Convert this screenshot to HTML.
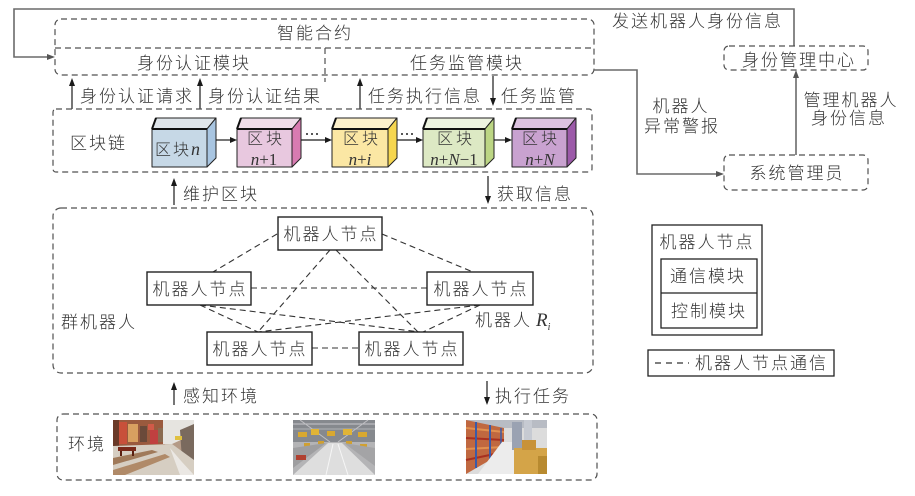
<!DOCTYPE html>
<html><head><meta charset="utf-8">
<style>
html,body{margin:0;padding:0;background:#fff;overflow:hidden;width:915px;height:496px;}
svg{display:block;}
text{font-family:"Liberation Sans","Noto Sans CJK SC",sans-serif;font-size:17px;fill:#333;letter-spacing:2px;font-weight:300;}
.m{font-family:"Liberation Serif",serif;font-style:italic;letter-spacing:0;font-weight:400;}
.u{font-family:"Liberation Serif",serif;font-style:normal;letter-spacing:0;font-weight:400;}
.d{fill:none;stroke:#505050;stroke-width:1.2;stroke-dasharray:6 4;}
.dn{fill:none;stroke:#333;stroke-width:1.1;stroke-dasharray:6 4;}
.g{fill:none;stroke:#6a6a6a;stroke-width:1.6;}
.k{stroke:#1a1a1a;stroke-width:1.2;fill:none;}
.box{fill:#fff;stroke:#222;stroke-width:1.4;}
.ce{stroke:#222;stroke-width:1;stroke-linejoin:round;}
</style></head><body>
<svg width="915" height="496" viewBox="0 0 915 496" xmlns="http://www.w3.org/2000/svg">

<!-- top feedback line -->
<polyline class="g" points="794,46 794,9 14,9 14,57 48,57"/>
<polygon points="55,57 47,54 47,60" fill="#555"/>
<text x="612" y="27">发送机器人身份信息</text>

<!-- smart contract -->
<rect class="d" x="55" y="19" width="539" height="56" rx="6"/>
<line class="d" x1="55" y1="48" x2="594" y2="48"/>
<line class="d" x1="325" y1="48" x2="325" y2="82"/>
<text x="315" y="39" text-anchor="middle">智能合约</text>
<text x="194" y="69" text-anchor="middle">身份认证模块</text>
<text x="467" y="69" text-anchor="middle">任务监管模块</text>

<!-- arrows row -->
<line class="k" x1="72" y1="109" x2="72" y2="84"/><polygon points="72,78 69,86 75,86" fill="#1a1a1a"/>
<text x="80" y="102">身份认证请求</text>
<line class="k" x1="200" y1="109" x2="200" y2="84"/><polygon points="200,78 197,86 203,86" fill="#1a1a1a"/>
<text x="208" y="102">身份认证结果</text>
<line class="k" x1="360" y1="109" x2="360" y2="84"/><polygon points="360,78 357,86 363,86" fill="#1a1a1a"/>
<text x="368" y="102">任务执行信息</text>
<line class="k" x1="493" y1="76" x2="493" y2="100"/><polygon points="493,106 490,98 496,98" fill="#1a1a1a"/>
<text x="501" y="102">任务监管</text>

<!-- blockchain -->
<rect class="d" x="53" y="109" width="539" height="63" rx="3"/>
<text x="70" y="149">区块链</text>

<!-- cubes -->
<g>
<polygon class="ce" points="152,129 156,118 216,118 207,129" fill="#dfe5ea"/>
<polygon class="ce" points="207,129 216,118 216,158 207,167" fill="#a8c5e1"/>
<rect class="ce" x="152" y="129" width="55" height="38" fill="#c6d8e6"/>
<line x1="152" y1="129" x2="207" y2="129" stroke="#111" stroke-width="2"/>
<line x1="152" y1="129" x2="156" y2="118" stroke="#111" stroke-width="2"/>
<text x="155" y="155" style="font-size:16px;letter-spacing:2px">区块<tspan class="m" font-size="18">n</tspan></text>
</g>
<g>
<polygon class="ce" points="237,129 241,118 301,118 292,129" fill="#efdde9"/>
<polygon class="ce" points="292,129 301,118 301,158 292,167" fill="#d87bb1"/>
<rect class="ce" x="237" y="129" width="55" height="38" fill="#e8c8df"/>
<line x1="237" y1="129" x2="292" y2="129" stroke="#111" stroke-width="2"/>
<line x1="237" y1="129" x2="241" y2="118" stroke="#111" stroke-width="2"/>
<text x="266" y="144" text-anchor="middle" style="font-size:16px;letter-spacing:3px">区块</text>
<text x="264" y="165" text-anchor="middle" class="m">n<tspan class="u">+1</tspan></text>
</g>
<g>
<polygon class="ce" points="332,129 336,118 397,118 388,129" fill="#fdf1cc"/>
<polygon class="ce" points="388,129 397,118 397,158 388,167" fill="#f6d64f"/>
<rect class="ce" x="332" y="129" width="56" height="38" fill="#fbe7a4"/>
<line x1="332" y1="129" x2="388" y2="129" stroke="#111" stroke-width="2"/>
<line x1="332" y1="129" x2="336" y2="118" stroke="#111" stroke-width="2"/>
<text x="362" y="144" text-anchor="middle" style="font-size:16px;letter-spacing:3px">区块</text>
<text x="360" y="165" text-anchor="middle" class="m">n<tspan class="u">+</tspan>i</text>
</g>
<g>
<polygon class="ce" points="423,129 427,118 494,118 485,129" fill="#edf3e0"/>
<polygon class="ce" points="485,129 494,118 494,158 485,167" fill="#bcd684"/>
<rect class="ce" x="423" y="129" width="62" height="38" fill="#dde9c4"/>
<line x1="423" y1="129" x2="485" y2="129" stroke="#111" stroke-width="2"/>
<line x1="423" y1="129" x2="427" y2="118" stroke="#111" stroke-width="2"/>
<text x="456" y="144" text-anchor="middle" style="font-size:16px;letter-spacing:3px">区块</text>
<text x="454" y="165" text-anchor="middle" class="m">n<tspan class="u">+</tspan>N<tspan class="u">−1</tspan></text>
</g>
<g>
<polygon class="ce" points="512,129 516,118 576,118 567,129" fill="#dcc3e0"/>
<polygon class="ce" points="567,129 576,118 576,158 567,167" fill="#9c5aa9"/>
<rect class="ce" x="512" y="129" width="55" height="38" fill="#c9a2d0"/>
<line x1="512" y1="129" x2="567" y2="129" stroke="#111" stroke-width="2"/>
<line x1="512" y1="129" x2="516" y2="118" stroke="#111" stroke-width="2"/>
<text x="541" y="144" text-anchor="middle" style="font-size:16px;letter-spacing:3px">区块</text>
<text x="540" y="165" text-anchor="middle" class="m">n<tspan class="u">+</tspan>N</text>
</g>
<!-- cube arrows -->
<line class="k" x1="216" y1="140" x2="231" y2="140"/><polygon points="237,140 230,137 230,143" fill="#1a1a1a"/>
<line class="k" x1="301" y1="140" x2="326" y2="140"/><polygon points="332,140 325,137 325,143" fill="#1a1a1a"/>
<circle cx="307" cy="134" r="1" fill="#222"/><circle cx="312" cy="134" r="1" fill="#222"/><circle cx="317" cy="134" r="1" fill="#222"/>
<line class="k" x1="397" y1="140" x2="417" y2="140"/><polygon points="423,140 416,137 416,143" fill="#1a1a1a"/>
<circle cx="402" cy="134" r="1" fill="#222"/><circle cx="407" cy="134" r="1" fill="#222"/><circle cx="412" cy="134" r="1" fill="#222"/>
<line class="k" x1="494" y1="140" x2="506" y2="140"/><polygon points="512,140 505,137 505,143" fill="#1a1a1a"/>

<!-- 维护区块 / 获取信息 -->
<line class="k" x1="174" y1="205" x2="174" y2="184"/><polygon points="174,178 171,186 177,186" fill="#1a1a1a"/>
<text x="183" y="200">维护区块</text>
<line class="k" x1="488" y1="176" x2="488" y2="198"/><polygon points="488,204 485,196 491,196" fill="#1a1a1a"/>
<text x="497" y="200">获取信息</text>

<!-- swarm -->
<rect class="d" x="53" y="208" width="540" height="165" rx="8"/>
<text x="61" y="328">群机器人</text>
<text x="475" y="326">机器人<tspan class="m" font-size="19" dx="4">R</tspan><tspan class="m" font-size="10" dy="4">i</tspan></text>

<!-- swarm connections -->
<line class="dn" x1="277" y1="234" x2="213" y2="272"/>
<line class="dn" x1="382" y1="234" x2="473" y2="272"/>
<line class="dn" x1="330" y1="250" x2="258" y2="332"/>
<line class="dn" x1="336" y1="250" x2="418" y2="332"/>
<line class="dn" x1="251" y1="288" x2="427" y2="288"/>
<line class="dn" x1="200" y1="305" x2="258" y2="332"/>
<line class="dn" x1="200" y1="305" x2="420" y2="332"/>
<line class="dn" x1="480" y1="305" x2="258" y2="332"/>
<line class="dn" x1="480" y1="305" x2="423" y2="332"/>
<line class="dn" x1="312" y1="348" x2="359" y2="348"/>

<!-- nodes -->
<rect class="box" x="278" y="217" width="104" height="33"/>
<text x="331" y="240" text-anchor="middle">机器人节点</text>
<rect class="box" x="147" y="272" width="104" height="33"/>
<text x="200" y="295" text-anchor="middle">机器人节点</text>
<rect class="box" x="427" y="272" width="106" height="33"/>
<text x="481" y="295" text-anchor="middle">机器人节点</text>
<rect class="box" x="207" y="332" width="105" height="33"/>
<text x="260" y="355" text-anchor="middle">机器人节点</text>
<rect class="box" x="359" y="332" width="104" height="33"/>
<text x="412" y="355" text-anchor="middle">机器人节点</text>

<!-- 感知环境 / 执行任务 -->
<line class="k" x1="174" y1="405" x2="174" y2="388"/><polygon points="174,382 171,390 177,390" fill="#1a1a1a"/>
<text x="183" y="402">感知环境</text>
<line class="k" x1="487" y1="381" x2="487" y2="399"/><polygon points="487,405 484,397 490,397" fill="#1a1a1a"/>
<text x="495" y="402">执行任务</text>

<!-- environment -->
<rect class="d" x="57" y="414" width="540" height="66" rx="6"/>
<text x="68" y="450">环境</text>

<!-- img1 street -->
<g>
<rect x="113" y="420" width="81" height="55" fill="#b49a86"/>
<rect x="113" y="420" width="52" height="28" fill="#9a5a3e"/>
<rect x="113" y="420" width="6" height="28" fill="#6a3a28"/>
<rect x="119" y="422" width="8" height="22" fill="#c8503a"/>
<rect x="128" y="424" width="10" height="18" fill="#d8a060"/>
<rect x="140" y="426" width="7" height="16" fill="#6a4a3a"/>
<rect x="148" y="424" width="6" height="6" fill="#d05a48"/>
<rect x="150" y="430" width="8" height="14" fill="#c04040"/>
<rect x="158" y="428" width="6" height="14" fill="#8a6a50"/>
<polygon points="163,420 194,420 194,434 172,444 163,444" fill="#e6e4e0"/>
<polygon points="180,430 194,424 194,472 182,460" fill="#7a6a5e"/>
<rect x="175" y="436" width="7" height="4" fill="#e0c040"/>
<polygon points="113,446 172,444 194,460 194,475 113,475" fill="#d6cec2"/>
<polygon points="113,458 152,450 158,452 113,465" fill="#a07a5a"/>
<polygon points="113,470 165,454 170,457 125,475 113,475" fill="#b08a68"/>
<rect x="118" y="447" width="18" height="4" fill="#7a2a1a"/>
<rect x="120" y="451" width="2" height="5" fill="#5a2010"/>
<rect x="132" y="451" width="2" height="5" fill="#5a2010"/>
<polygon points="170,448 182,462 194,475 180,475" fill="#ebe8e4"/>
</g>
<!-- img2 factory -->
<g>
<rect x="293" y="420" width="82" height="55" fill="#b4b4b6"/>
<rect x="293" y="420" width="82" height="22" fill="#86898e"/>
<line x1="293" y1="424" x2="375" y2="424" stroke="#c8c8cc" stroke-width="1"/>
<line x1="293" y1="429" x2="375" y2="429" stroke="#b0b2b6" stroke-width="1"/>
<line x1="300" y1="420" x2="330" y2="442" stroke="#c0c0c4" stroke-width="1"/>
<line x1="368" y1="420" x2="338" y2="442" stroke="#c0c0c4" stroke-width="1"/>
<rect x="298" y="432" width="9" height="5" fill="#d8a830"/>
<rect x="311" y="429" width="8" height="6" fill="#e0b436"/>
<rect x="327" y="431" width="8" height="5" fill="#d8a830"/>
<rect x="343" y="429" width="9" height="6" fill="#e0b436"/>
<rect x="358" y="432" width="9" height="5" fill="#d8a830"/>
<rect x="304" y="443" width="6" height="4" fill="#d0a030"/>
<rect x="318" y="441" width="6" height="3" fill="#d0a030"/>
<rect x="346" y="441" width="6" height="3" fill="#d0a030"/>
<rect x="360" y="444" width="7" height="4" fill="#d0a030"/>
<polygon points="328,443 342,443 375,475 293,475" fill="#dedede"/>
<polygon points="293,448 326,443 293,468" fill="#9e9ea0"/>
<polygon points="375,448 344,443 375,466" fill="#a4a4a6"/>
<line x1="333" y1="444" x2="326" y2="475" stroke="#f6f6f6" stroke-width="1"/>
<line x1="338" y1="444" x2="348" y2="475" stroke="#f6f6f6" stroke-width="1"/>
<rect x="296" y="455" width="10" height="5" fill="#b04030"/>
</g>
<!-- img3 warehouse -->
<g>
<rect x="466" y="420" width="81" height="54" fill="#dcdcdc"/>
<rect x="466" y="420" width="81" height="8" fill="#b8bcc4"/>
<polygon points="466,420 504,428 504,452 466,474" fill="#c06840"/>
<line x1="466" y1="428" x2="504" y2="432" stroke="#e09050" stroke-width="2"/>
<line x1="466" y1="438" x2="504" y2="440" stroke="#a83020" stroke-width="2"/>
<line x1="466" y1="449" x2="504" y2="447" stroke="#e09050" stroke-width="2"/>
<line x1="466" y1="460" x2="504" y2="452" stroke="#a83020" stroke-width="2"/>
<line x1="476" y1="422" x2="476" y2="468" stroke="#3a5aa8" stroke-width="2"/>
<line x1="490" y1="425" x2="490" y2="460" stroke="#3a5aa8" stroke-width="2"/>
<line x1="501" y1="428" x2="501" y2="454" stroke="#3a5aa8" stroke-width="1.5"/>
<polygon points="502,442 512,442 532,474 478,474" fill="#ececec"/>
<rect x="512" y="422" width="10" height="28" fill="#9aa2b2"/>
<rect x="524" y="420" width="8" height="30" fill="#c6cad2"/>
<rect x="514" y="448" width="33" height="26" fill="#d4a448"/>
<rect x="522" y="440" width="14" height="10" fill="#c89238"/>
<rect x="538" y="456" width="9" height="18" fill="#b88a30"/>
</g>

<!-- right side -->
<rect class="d" x="724" y="46" width="144" height="24" rx="5"/>
<text x="799" y="66" text-anchor="middle">身份管理中心</text>
<rect class="d" x="724" y="155" width="144" height="35" rx="5"/>
<text x="797" y="179" text-anchor="middle">系统管理员</text>
<line class="g" x1="796" y1="155" x2="796" y2="77"/>
<polygon points="796,70 793,78 799,78" fill="#555"/>
<text x="851" y="106" text-anchor="middle">管理机器人</text>
<text x="849" y="124" text-anchor="middle">身份信息</text>
<polyline class="g" points="594,70 637,70 637,174 717,174"/>
<polygon points="724,174 716,171 716,177" fill="#555"/>
<text x="681" y="112" text-anchor="middle">机器人</text>
<text x="682" y="132" text-anchor="middle">异常警报</text>

<!-- legend -->
<rect x="652" y="225" width="110" height="110" fill="none" stroke="#222" stroke-width="1.3"/>
<text x="707" y="248" text-anchor="middle">机器人节点</text>
<rect x="661" y="259" width="96" height="69" fill="none" stroke="#222" stroke-width="1.3"/>
<line x1="661" y1="293" x2="757" y2="293" stroke="#222" stroke-width="1.3"/>
<text x="708" y="282" text-anchor="middle">通信模块</text>
<text x="709" y="317" text-anchor="middle">控制模块</text>
<rect x="648" y="350" width="186" height="26" fill="none" stroke="#222" stroke-width="1.3"/>
<line x1="655" y1="363" x2="689" y2="363" stroke="#333" stroke-width="1.3" stroke-dasharray="6 5"/>
<text x="695" y="369">机器人节点通信</text>

</svg>
</body></html>
